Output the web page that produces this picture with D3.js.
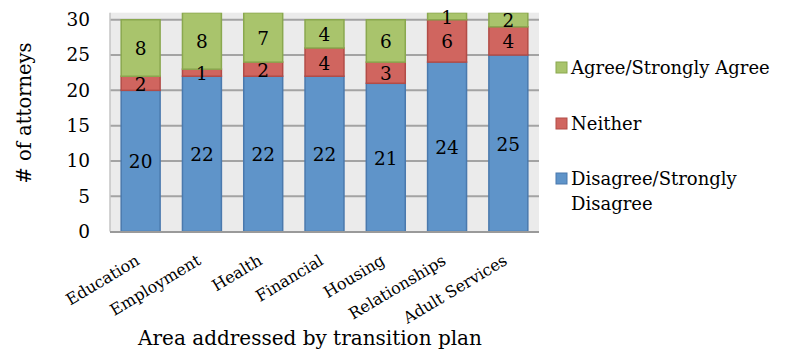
<!DOCTYPE html>
<html>
<head>
<meta charset="utf-8">
<script src="https://cdn.jsdelivr.net/npm/d3@7"></script>
<style>
  body { margin: 0; background: #fff; }
  svg text { font-family: "DejaVu Serif", "Liberation Serif", serif; fill: #000; }
</style>
</head>
<body>
<svg id="chart" width="788" height="358"></svg>
<script>
// Survey responses per transition-plan area
const categories = ["Education", "Employment", "Health", "Financial", "Housing", "Relationships", "Adult Services"];
const disagree = [20, 22, 22, 22, 21, 24, 25];
const neither  = [2, 1, 2, 4, 3, 6, 4];
const agree    = [8, 8, 7, 4, 6, 1, 2];
const seriesNames = ["Disagree/Strongly Disagree", "Neither", "Agree/Strongly Agree"];
const yTicks = [0, 5, 10, 15, 20, 25, 30];

const fills   = ["#5f94c9", "#d0655f", "#a9c46c"];
const strokes = ["#4a79ad", "#b24c47", "#8aa84f"];
const FONT = '"DejaVu Serif", "Liberation Serif", serif';

const svg = d3.select("#chart");
const plot = { left: 110, right: 539, top: 12.7, bottom: 231.5 };

const x = d3.scaleBand().domain(categories)
  .range([plot.left, plot.right]).paddingInner(0.34).paddingOuter(0.17);
const y = d3.scaleLinear().domain([0, 31]).range([plot.bottom, plot.top]);

const rows = categories.map((c, i) => ({ cat: c, d: disagree[i], n: neither[i], a: agree[i] }));
const stack = d3.stack().keys(["d", "n", "a"])(rows);

// plot background
svg.append("rect").attr("x", plot.left).attr("y", plot.top)
  .attr("width", plot.right - plot.left).attr("height", plot.bottom - plot.top)
  .attr("fill", "#ebebeb");

svg.append("clipPath").attr("id", "plotClip").append("rect")
  .attr("x", plot.left).attr("y", plot.top)
  .attr("width", plot.right - plot.left).attr("height", plot.bottom - plot.top);

// horizontal gridlines
svg.append("g").selectAll("line").data(yTicks.filter(t => t > 0)).join("line")
  .attr("x1", plot.left).attr("x2", plot.right)
  .attr("y1", d => y(d)).attr("y2", d => y(d))
  .attr("stroke", "#a3a3a3").attr("stroke-width", 2);

// stacked bars (clipped at the top of the plot area)
const barLayer = svg.append("g").attr("clip-path", "url(#plotClip)");
stack.forEach((layer, si) => {
  barLayer.append("g").selectAll("rect").data(layer).join("rect")
    .attr("x", d => x(d.data.cat) + 0.75)
    .attr("width", x.bandwidth() - 1.5)
    .attr("y", d => y(d[1]))
    .attr("height", d => y(d[0]) - y(d[1]))
    .attr("fill", fills[si]).attr("stroke", strokes[si]).attr("stroke-width", 1.5);
});

// segment value labels, centred in the visible part of each segment
const labelLayer = svg.append("g");
stack.forEach(layer => {
  labelLayer.append("g").selectAll("text").data(layer).join("text")
    .attr("x", d => x(d.data.cat) + x.bandwidth() / 2)
    .attr("y", d => y((d[0] + Math.min(d[1], 31)) / 2) + 1)
    .attr("dy", "0.35em")
    .attr("text-anchor", "middle")
    .style("font-family", FONT).style("font-size", "18.5px")
    .text(d => d[1] - d[0]);
});

// axis lines
svg.append("line").attr("x1", plot.left).attr("x2", plot.left)
  .attr("y1", plot.top).attr("y2", plot.bottom)
  .attr("stroke", "#c4c4c4").attr("stroke-width", 1.5);
svg.append("line").attr("x1", plot.left).attr("x2", plot.right)
  .attr("y1", plot.bottom + 0.5).attr("y2", plot.bottom + 0.5)
  .attr("stroke", "#9a9a9a").attr("stroke-width", 2);

// y axis tick labels
const yAxis = d3.axisLeft(y).tickValues(yTicks).tickSize(0).tickPadding(20);
const yg = svg.append("g").attr("transform", `translate(${plot.left},0)`).call(yAxis);
yg.attr("font-family", null).attr("font-size", null);
yg.select(".domain").remove();
yg.selectAll("text").style("font-family", FONT).style("font-size", "18.5px").attr("fill", "#000");

// x axis category labels, rotated
const xAxis = d3.axisBottom(x).tickSize(0).tickPadding(0);
const xg = svg.append("g").attr("transform", `translate(0,${plot.bottom})`).call(xAxis);
xg.attr("font-family", null).attr("font-size", null);
xg.select(".domain").remove();
xg.selectAll("text")
  .style("font-family", FONT).style("font-size", "16px").attr("fill", "#000")
  .attr("text-anchor", "end")
  .attr("y", 0).attr("dy", 0)
  .attr("transform", "translate(0,32) rotate(-31)");

// axis titles
svg.append("text").attr("x", 310).attr("y", 345).attr("text-anchor", "middle")
  .style("font-family", FONT).style("font-size", "20px").text("Area addressed by transition plan");
svg.append("text").attr("transform", "translate(31,113) rotate(-90)")
  .attr("text-anchor", "middle")
  .style("font-family", FONT).style("font-size", "19.5px").text("# of attorneys");

// legend
const legendItems = [
  { i: 2, lines: ["Agree/Strongly Agree"], cy: 68 },
  { i: 1, lines: ["Neither"], cy: 124 },
  { i: 0, lines: ["Disagree/Strongly", "Disagree"], cy: 179 }
];
const lg = svg.append("g");
legendItems.forEach(item => {
  lg.append("rect").attr("x", 556).attr("y", item.cy - 6).attr("width", 11).attr("height", 11)
    .attr("fill", fills[item.i]).attr("stroke", strokes[item.i]).attr("stroke-width", 1);
  item.lines.forEach((ln, k) => {
    lg.append("text").attr("x", 571).attr("y", item.cy + k * 25).attr("dy", "0.35em")
      .style("font-family", FONT).style("font-size", "18px").text(ln);
  });
});
</script>
</body>
</html>
